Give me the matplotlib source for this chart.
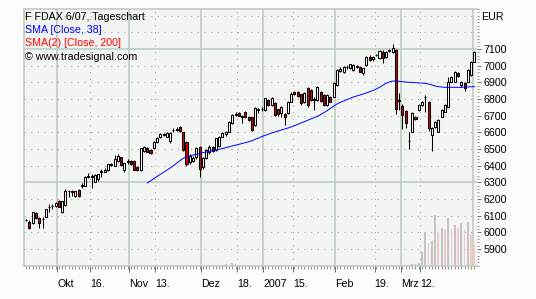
import numpy as np
import matplotlib
matplotlib.use('Agg')
from matplotlib import pyplot as plt
from matplotlib.ticker import MultipleLocator, FixedLocator

# -------------------- data ----------------------

# daily candles FDAX 6/07, index 0 = 18.09.2006
opens = [6076, 6060, 6055, 6118, 6088, 6078, 6094, 6150, 6158, 6160,
         6188, 6120, 6166, 6246, 6240, 6216, 6254, 6276, 6280, 6330,
         6340, 6304, 6320, 6368, 6364, 6374, 6404, 6400, 6430, 6450,
         6372, 6424, 6426, 6428, 6394, 6376, 6486, 6506, 6496, 6506,
         6542, 6570, 6586, 6574, 6546, 6612, 6616, 6634, 6600, 6540,
         6420, 6430, 6450, 6510, 6390, 6444, 6484, 6510, 6494, 6520,
         6574, 6588, 6604, 6654, 6706, 6718, 6700, 6724, 6694, 6690,
         6644, 6734, 6738, 6734, 6794, 6764, 6778, 6738, 6714, 6710,
         6714, 6784, 6844, 6840, 6828, 6784, 6864, 6854, 6800, 6794,
         6844, 6824, 6766, 6814, 6814, 6884, 6970, 6964, 6990, 6984,
         6976, 6996, 6994, 6954, 7004, 7054, 7040, 7062, 7046, 7084,
         7054, 7090, 7084, 7094, 6790, 6760, 6728, 6550, 6604, 6694,
         6734, 6764, 6810, 6784, 6584, 6634, 6604, 6694, 6724, 6754,
         6904, 6904, 6954, 6884, 6894, 6904, 6944, 7024]
highs = [6080, 6075, 6124, 6122, 6092, 6094, 6140, 6168, 6168, 6180,
         6192, 6190, 6258, 6254, 6252, 6250, 6258, 6294, 6338, 6354,
         6350, 6350, 6352, 6378, 6384, 6412, 6418, 6464, 6470, 6455,
         6418, 6438, 6432, 6432, 6398, 6508, 6518, 6512, 6500, 6548,
         6572, 6596, 6596, 6600, 6600, 6624, 6630, 6640, 6604, 6546,
         6470, 6460, 6515, 6520, 6450, 6500, 6524, 6516, 6568, 6580,
         6600, 6608, 6668, 6708, 6724, 6722, 6704, 6730, 6700, 6694,
         6750, 6748, 6750, 6806, 6800, 6810, 6784, 6742, 6756, 6716,
         6786, 6840, 6850, 6848, 6832, 6840, 6874, 6858, 6810, 6880,
         6850, 6830, 6830, 6820, 6900, 6980, 6990, 7000, 7004, 7012,
         7012, 7004, 7000, 6988, 7060, 7062, 7058, 7072, 7094, 7092,
         7090, 7100, 7130, 7100, 6834, 6770, 6734, 6604, 6720, 6700,
         6770, 6790, 6824, 6790, 6630, 6670, 6680, 6740, 6770, 6930,
         6940, 6970, 6960, 6910, 6900, 6980, 7026, 7090]
lows = [6068, 6020, 6050, 6080, 6024, 6028, 6090, 6124, 6140, 6150,
        6150, 6114, 6160, 6214, 6220, 6212, 6215, 6268, 6276, 6328,
        6264, 6300, 6310, 6334, 6360, 6370, 6400, 6396, 6425, 6400,
        6364, 6410, 6404, 6372, 6366, 6370, 6480, 6480, 6470, 6500,
        6538, 6566, 6578, 6570, 6538, 6604, 6610, 6600, 6490, 6400,
        6410, 6420, 6440, 6334, 6380, 6440, 6470, 6484, 6490, 6510,
        6570, 6580, 6600, 6650, 6698, 6696, 6654, 6686, 6670, 6610,
        6640, 6714, 6730, 6730, 6760, 6760, 6700, 6700, 6694, 6644,
        6710, 6780, 6826, 6810, 6764, 6776, 6754, 6790, 6734, 6790,
        6780, 6760, 6756, 6780, 6810, 6880, 6960, 6958, 6980, 6978,
        6970, 6984, 6960, 6944, 7000, 7030, 7030, 7056, 7040, 7014,
        7048, 7080, 7078, 6708, 6734, 6620, 6624, 6500, 6600, 6676,
        6730, 6756, 6724, 6610, 6490, 6628, 6600, 6690, 6720, 6750,
        6900, 6900, 6930, 6870, 6850, 6900, 6940, 7020]
closes = [6072, 6025, 6120, 6086, 6054, 6082, 6138, 6152, 6160, 6176,
          6154, 6188, 6250, 6250, 6246, 6246, 6220, 6282, 6334, 6340,
          6334, 6344, 6348, 6362, 6372, 6408, 6408, 6438, 6458, 6404,
          6414, 6428, 6410, 6376, 6372, 6504, 6512, 6484, 6476, 6544,
          6568, 6588, 6590, 6594, 6596, 6614, 6620, 6606, 6494, 6410,
          6456, 6444, 6505, 6380, 6444, 6494, 6514, 6490, 6564, 6574,
          6594, 6604, 6664, 6704, 6712, 6700, 6690, 6690, 6674, 6614,
          6744, 6740, 6742, 6804, 6764, 6804, 6704, 6708, 6754, 6690,
          6784, 6830, 6830, 6818, 6774, 6834, 6764, 6794, 6796, 6874,
          6790, 6764, 6826, 6784, 6894, 6974, 6978, 6994, 6994, 7008,
          7006, 6992, 6964, 6984, 7054, 7036, 7050, 7066, 7088, 7044,
          7084, 7094, 7108, 6740, 6796, 6704, 6654, 6546, 6714, 6680,
          6764, 6784, 6814, 6624, 6624, 6664, 6674, 6734, 6764, 6900,
          6934, 6964, 6940, 6904, 6864, 6974, 7022, 7084]

# SMA [Close, 38], first value at index 37
sma_start = 37
sma38 = [6296, 6308, 6322, 6335, 6348, 6360, 6373, 6386, 6400, 6415,
         6430, 6444, 6452, 6458, 6464, 6468, 6473, 6478, 6482, 6486,
         6490, 6494, 6498, 6503, 6508, 6513, 6518, 6523, 6528, 6533,
         6538, 6543, 6550, 6558, 6566, 6574, 6582, 6588, 6596, 6602,
         6608, 6614, 6620, 6626, 6632, 6640, 6648, 6656, 6664, 6672,
         6680, 6688, 6696, 6706, 6718, 6730, 6744, 6758, 6770, 6780,
         6788, 6796, 6804, 6812, 6818, 6824, 6830, 6837, 6844, 6851,
         6860, 6870, 6882, 6894, 6902, 6908, 6908, 6906, 6904, 6902,
         6900, 6900, 6898, 6896, 6896, 6894, 6890, 6884, 6878, 6874,
         6872, 6870, 6870, 6870, 6870, 6870, 6870, 6872, 6872, 6874,
         6874]

# volume bars (index, height, colour group)
vol_idx = [44, 61, 63, 64, 112, 115, 116, 118, 119, 120,
           121, 122, 123, 124, 125, 126, 127, 128, 129, 130,
           131, 132, 133, 134, 135, 136, 137]
vol = [1, 2, 3, 2, 1, 1, 1, 2, 2, 3,
       14, 33, 23, 25, 51, 34, 38, 37, 48, 37,
       41, 38, 43, 36, 44, 32, 21]
vol_grp = ['g', 'g', 'g', 'g', 'g', 'g', 'g', 'g', 'g', 'g',
           'g', 'g', 'p', 'g', 'g', 'p', 'g', 'p', 'g', 'p',
           'g', 'p', 'g', 'p', 'g', 'p', 'p']

month_pos = [9.5, 31.5, 53.5, 72.5, 94.5, 114.5, 136.5]
mid_pos = [19.5, 39.5, 64.5, 81.5, 106.5, 120.5]
xlab_pos = [9.5, 19.5, 31.5, 39.5, 53.5, 64.5, 72.5, 81.5, 94.5, 106.5, 114.5, 120.5]
xlab = ['Okt', '16.', 'Nov', '13.', 'Dez', '18.', '2007', '15.', 'Feb', '19.', 'Mrz', '12.']
ylab_pos = list(range(5900, 7101, 100))

# -------------------- output ---------------------

plt.rcParams['font.family'] = ['Liberation Sans', 'DejaVu Sans']
fs = 7.7
W, H = 536, 299
grid_col = '#b7cab7'
dot_col = '#a0a8a0'

fig = plt.figure(figsize=(W / 100, H / 100), dpi=100, facecolor='#fbfdfb')
ax = fig.add_axes([24 / W, 1 - 266 / H, (477 - 24) / W, (266 - 9) / H])
ax.set_facecolor('#f3f5f2')
ax.set_xlim(-0.67, 137.8)
ax.set_ylim(5798, 7340)

# grid
for p in range(5800, 7400, 100):
    if p in (6300, 7100):
        ax.axhline(p, color=grid_col, lw=1.1, zorder=0.5)
    else:
        ax.axhline(p, color=dot_col, lw=0.8, ls=(0, (1, 5)), zorder=0.5)
for m in month_pos:
    ax.axvline(m, color=grid_col, lw=1.1, zorder=0.5)
for m in mid_pos:
    ax.axvline(m, color=dot_col, lw=0.8, ls=(0, (1, 5)), zorder=0.5)

# volume
axv = ax.twinx()
axv.set_ylim(0, 257)
axv.axis('off')
vcols = ['#c4c4c4' if g == 'g' else '#f2caca' for g in vol_grp]
axv.bar(vol_idx, vol, width=0.55, color=vcols, zorder=1)

# candles
x = np.arange(len(closes))
o = np.array(opens)
c = np.array(closes)
ax.vlines(x, lows, highs, color='black', lw=0.75, zorder=2)
body_col = ['white' if cc >= oo else '#e00000' for oo, cc in zip(o, c)]
ax.bar(x, np.maximum(np.abs(c - o), 2), bottom=np.minimum(o, c), width=0.62,
       color=body_col, edgecolor='black', lw=0.75, zorder=3)

# SMA
ax.plot(np.arange(sma_start, sma_start + len(sma38)), sma38, color='#0000ff', lw=0.7, zorder=4)

# spines
for s in ('left', 'top', 'bottom'):
    ax.spines[s].set_color(grid_col)
    ax.spines[s].set_linewidth(1.1)
ax.spines['right'].set_visible(False)

# axes ticks
ax.yaxis.tick_right()
ax.yaxis.set_major_locator(FixedLocator(ylab_pos))
ax.yaxis.set_minor_locator(MultipleLocator(20))
ax.tick_params(axis='y', which='major', length=3, width=0.7, color='#707070',
               labelsize=fs, pad=1.8)
ax.tick_params(axis='y', which='minor', length=1.5, width=0.7, color='#909090')
ax.set_yticklabels([str(p) for p in ylab_pos])

ax.set_xticks(xlab_pos)
ax.set_xticklabels(xlab)
for t in ax.get_xticklabels():
    t.set_ha('left')
ax.xaxis.set_minor_locator(FixedLocator(x))
ax.tick_params(axis='x', which='major', length=4, width=0.7, color='#707070',
               labelsize=fs, pad=5.5)
ax.tick_params(axis='x', which='minor', length=2, width=0.7, color='#909090')

# texts
fig.text(481 / W, 1 - 20 / H, 'EUR', fontsize=fs, va='baseline', ha='left')
fig.text(25 / W, 1 - 20.5 / H, 'F FDAX 6/07, Tageschart', fontsize=fs, va='baseline')
fig.text(25 / W, 1 - 33 / H, 'SMA [Close, 38]', fontsize=fs, va='baseline', color='#0000ff')
fig.text(25 / W, 1 - 45.5 / H, 'SMA(2) [Close, 200]', fontsize=fs, va='baseline', color='#ff0000')
fig.text(25 / W, 1 - 59.5 / H, '\u00a9 www.tradesignal.com', fontsize=fs, va='baseline')

fig.savefig('out.png', dpi=100, facecolor=fig.get_facecolor())
